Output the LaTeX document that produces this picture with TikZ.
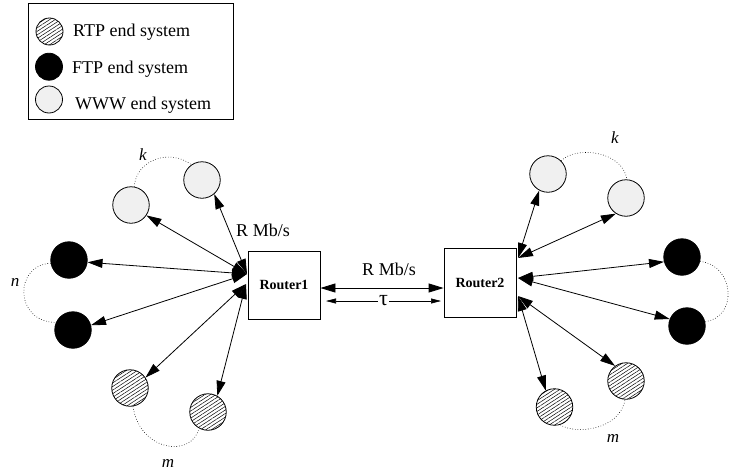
\documentclass[tikz,border=0pt]{standalone}
\usepackage{fontspec}
\setmainfont{Liberation Serif}
\usetikzlibrary{arrows.meta,patterns.meta}
\definecolor{wgray}{gray}{0.94}
\begin{document}
\begin{tikzpicture}[x=1pt,y=-1pt,
  es/.style={circle,draw,line width=0.8pt,minimum size=36.5pt,inner sep=0pt},
  lg/.style={circle,draw,line width=0.8pt,minimum size=27pt,inner sep=0pt},
  www/.style={fill=wgray},
  ftp/.style={fill=black},
  rtp/.style={pattern={Lines[angle=33,distance=3pt,line width=0.5pt]}},
  router/.style={draw,line width=0.8pt,inner sep=0pt,font=\fontsize{14}{16}\selectfont\bfseries},
  link/.style={line width=0.8pt,{Triangle[length=15pt,width=9pt]}-{Triangle[length=15pt,width=9pt]}},
  tauarrow/.style={line width=0.6pt,{Triangle[length=10pt,width=5pt]}-{Triangle[length=10pt,width=5pt]}},
  ring/.style={dotted,line width=0.6pt},
  lbl/.style={font=\fontsize{18}{20}\selectfont,inner sep=0pt},
  idx/.style={font=\fontsize{17}{20}\selectfont\itshape,inner sep=0pt},
]
\useasboundingbox (0,0) rectangle (747,474);

% legend
\node[draw,line width=0.8pt,minimum width=205pt,minimum height=116pt,inner sep=0pt] (legend) at (130.5,61) {};
\node[lg,rtp] (lgr) at (49.5,31.5) {};
\node[lg,ftp] (lgf) at (49,66.7) {};
\node[lg,www] (lgw) at (49,99.5) {};
\node[lbl,anchor=base west] (tr) at (73,36) {RTP end system};
\node[lbl,anchor=base west] (tf) at (72,73.5) {FTP end system};
\node[lbl,anchor=base west] (tw) at (75,109.5) {WWW end system};

% routers
\node[router,minimum width=72pt,minimum height=68pt] (r1) at (284,285) {Router1};
\node[router,minimum width=72pt,minimum height=69pt] (r2) at (480,282.5) {Router2};

% left end systems
\node[es,www] (lw1) at (131,205) {};
\node[es,www] (lw2) at (202,180) {};
\node[es,ftp] (lf1) at (69,260) {};
\node[es,ftp] (lf2) at (73,330) {};
\node[es,rtp] (lr1) at (130,388) {};
\node[es,rtp] (lr2) at (208,412) {};

% right end systems
\node[es,www] (rw1) at (548,174) {};
\node[es,www] (rw2) at (626,198) {};
\node[es,ftp] (rf1) at (682,257) {};
\node[es,ftp] (rf2) at (687,326) {};
\node[es,rtp] (rr2) at (626,381) {};
\node[es,rtp] (rr1) at (554.5,407) {};

% convergence points
\coordinate (c1) at (247,274);
\coordinate (c2) at (246,284);
\coordinate (cw) at (518,258);
\coordinate (cf) at (518,278);
\coordinate (cr) at (518,296);

% left links
\draw[link] (c1) -- (lw1.-34);
\draw[link] (c1) -- (lw2.-49);
\draw[link] (c1) -- (lf1.-7);
\draw[link] (c1) -- (lf2.15);
\draw[link] (c2) -- (lr1.34);
\draw[link] (c2) -- (lr2.60);

% right links
\draw[link] (cw) -- (rw1.-118);
\draw[link] (cw) -- (rw2.-123);
\draw[link] (cf) -- (rf1.-165);
\draw[link] (cf) -- (rf2.158);
\draw[link] (cr) -- (rr2.126);
\draw[link] (cr) -- (rr1.118);

% router link
\coordinate (ya) at (0,288);
\draw[link] (r1.east |- ya) -- (r2.west |- ya);
\node[lbl] (rmid) at (389,269) {R Mb/s};
\coordinate (t1) at (326,301);
\coordinate (t2) at (441,301);
\draw[tauarrow] (t1) -- node[fill=white,inner sep=1pt,font=\fontsize{22}{24}\selectfont] (tau) {τ} (t2);
\node[lbl] (rleft) at (263,230) {R Mb/s};

% dotted group arcs
\draw[ring] (lw1.80) .. controls (136,160) and (170,148) .. (lw2.125);
\draw[ring] (lf1.190) .. controls (14,265) and (14,322) .. (lf2.156);
\draw[ring] (lr1.-81) .. controls (140,452) and (192,458) .. (lr2.-119);
\draw[ring] (rw1.45) .. controls (575,146) and (622,150) .. (rw2.87);
\draw[ring] (rf1.-14) .. controls (735,265) and (738,318) .. (rf2.14);
\draw[ring] (rr1.-72) .. controls (575,435) and (620,430) .. (rr2.-93);

% group labels
\node[idx] (kl) at (143,155) {k};
\node[idx] (nl) at (15,282) {n};
\node[idx] (ml) at (168,463) {m};
\node[idx] (kr) at (615,138) {k};
\node[idx] (nr) at (751,297) {n};
\node[idx] (mr) at (613,438) {m};
\end{tikzpicture}
\end{document}
